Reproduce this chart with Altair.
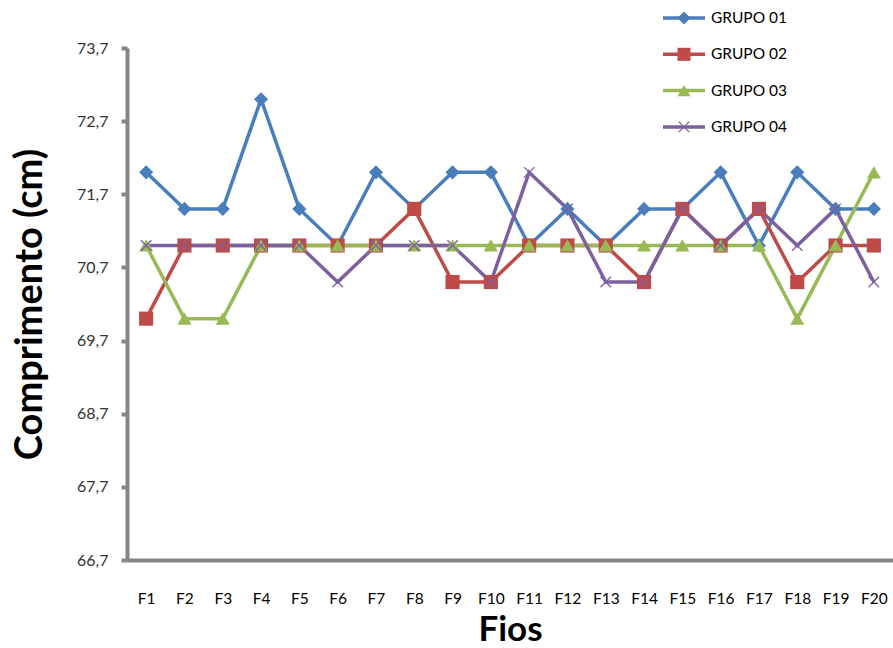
import altair as alt
import pandas as pd

fios = [f"F{i}" for i in range(1, 21)]
grupos = ["GRUPO 01", "GRUPO 02", "GRUPO 03", "GRUPO 04"]

grupo_01 = [72, 71.5, 71.5, 73, 71.5, 71, 72, 71.5, 72, 72,
            71, 71.5, 71, 71.5, 71.5, 72, 71, 72, 71.5, 71.5]
grupo_02 = [70, 71, 71, 71, 71, 71, 71, 71.5, 70.5, 70.5,
            71, 71, 71, 70.5, 71.5, 71, 71.5, 70.5, 71, 71]
grupo_03 = [71, 70, 70, 71, 71, 71, 71, 71, 71, 71,
            71, 71, 71, 71, 71, 71, 71, 70, 71, 72]
grupo_04 = [71, 71, 71, 71, 71, 70.5, 71, 71, 71, 70.5,
            72, 71.5, 70.5, 70.5, 71.5, 71, 71.5, 71, 71.5, 70.5]

y_ticks = [66.7, 67.7, 68.7, 69.7, 70.7, 71.7, 72.7, 73.7]

cores = ["#4A7EBB", "#BE4B48", "#98B954", "#7D60A0"]
formas = ["diamond", "square", "triangle-up", "M-1,-1L1,1M-1,1L1,-1"]

series = [grupo_01, grupo_02, grupo_03, grupo_04]
rows = []
for g, vals in zip(grupos, series):
    for f, v in zip(fios, vals):
        rows.append({"fio": f, "grupo": g, "valor": v})
df = pd.DataFrame(rows)

W, H = 766, 512
FONT = "Lato"

x_enc = alt.X("fio:N", sort=fios, scale=alt.Scale(paddingOuter=0.5, paddingInner=0),
              axis=alt.Axis(title="Fios", labelAngle=0, ticks=False, labelOverlap=False,
                            domainColor="#868686", domainWidth=4,
                            labelFont=FONT, labelFontSize=15.5, labelColor="#000000",
                            labelPadding=31, titleFont=FONT, titleFontSize=35,
                            titleFontWeight="bold", titleColor="#000000",
                            titleBaseline="middle", titleY=69))
y_enc = alt.Y("valor:Q", scale=alt.Scale(domain=[66.7, 73.7], nice=False, zero=False),
              axis=alt.Axis(title="Comprimento (cm)", values=y_ticks,
                            labelExpr="replace(format(datum.value, '.1f'), '.', ',')",
                            grid=False, domainColor="#868686", domainWidth=4,
                            tickColor="#868686", tickWidth=4, tickSize=6,
                            labelFont=FONT, labelFontSize=16, labelColor="#333333",
                            labelPadding=13, titleFont=FONT, titleFontSize=38,
                            titleFontWeight="bold", titleColor="#000000",
                            titleBaseline="middle", titleX=-97, titleY=H / 2))
color_enc = alt.Color("grupo:N", scale=alt.Scale(domain=grupos, range=cores), legend=None)
shape_enc = alt.Shape("grupo:N", scale=alt.Scale(domain=grupos, range=formas), legend=None)

base = alt.Chart(df).encode(x=x_enc, y=y_enc, color=color_enc, detail="grupo:N")

linhas = base.mark_line(strokeWidth=3.5)

pts_cheios = alt.Chart(df[df.grupo != "GRUPO 04"]).mark_point(
    filled=True, opacity=1, size=200).encode(
    x=alt.X("fio:N", sort=fios), y="valor:Q", color=color_enc, shape=shape_enc)

pts_x = alt.Chart(df[df.grupo == "GRUPO 04"]).mark_point(
    shape=formas[3], filled=False, size=110, strokeWidth=1.3, opacity=1).encode(
    x=alt.X("fio:N", sort=fios), y="valor:Q", color=color_enc)

# hand-built legend in the upper right corner
leg = pd.DataFrame({"grupo": grupos, "i": range(len(grupos))})
leg_base = alt.Chart(leg).transform_calculate(
    ly="-30 + 36.3 * datum.i", x0="536", x1="578", xm="557", xt="584")

leg_line = leg_base.mark_rule(strokeWidth=3.5).encode(
    x=alt.X("x0:Q", scale=None), x2="x1:Q", y=alt.Y("ly:Q", scale=None), color=color_enc)
leg_pts = leg_base.transform_filter("datum.i < 3").mark_point(
    filled=True, opacity=1, size=170).encode(
    x=alt.X("xm:Q", scale=None), y=alt.Y("ly:Q", scale=None), color=color_enc,
    shape=shape_enc)
leg_x = leg_base.transform_filter("datum.i == 3").mark_point(
    shape=formas[3], filled=False, size=110, strokeWidth=1.3, opacity=1).encode(
    x=alt.X("xm:Q", scale=None), y=alt.Y("ly:Q", scale=None), color=color_enc)
leg_txt = leg_base.mark_text(align="left", baseline="middle", font=FONT,
                             fontSize=15.5, color="#000000").encode(
    x=alt.X("xt:Q", scale=None), y=alt.Y("ly:Q", scale=None), text="grupo:N")

chart = alt.layer(linhas, pts_cheios, pts_x, leg_line, leg_pts, leg_x, leg_txt).properties(
    width=W, height=H,
    autosize=alt.AutoSizeParams(type="none"),
    padding={"left": 127, "top": 48, "right": 0, "bottom": 88},
    background="white",
).configure_view(stroke=None)

chart.save("out.html", embed_options={"renderer": "svg", "actions": False})
